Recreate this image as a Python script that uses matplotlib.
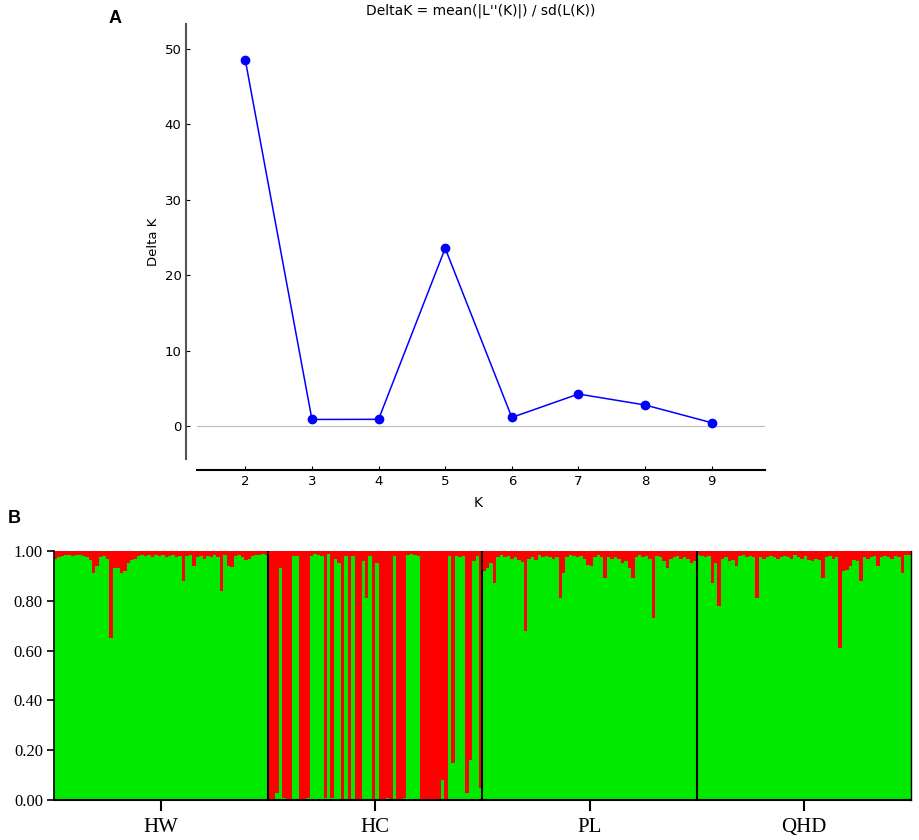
import numpy as np
import matplotlib
matplotlib.use("Agg")
import matplotlib.pyplot as plt

# panel A: Evanno Delta K
k_values = [2, 3, 4, 5, 6, 7, 8, 9]
delta_k = [48.5, 0.93, 0.95, 23.6, 1.2, 4.3, 2.85, 0.5]

# panel B: membership (green cluster share per individual)
groups = ["HW", "HC", "PL", "QHD"]
hw = [0.97, 0.975, 0.98, 0.985, 0.985, 0.98, 0.985, 0.985, 0.98, 0.975,
      0.965, 0.91, 0.94, 0.975, 0.98, 0.97, 0.65, 0.93, 0.93, 0.91,
      0.92, 0.95, 0.965, 0.97, 0.98, 0.985, 0.98, 0.985, 0.975, 0.985,
      0.98, 0.985, 0.975, 0.98, 0.985, 0.975, 0.98, 0.88, 0.98, 0.985,
      0.94, 0.975, 0.98, 0.97, 0.98, 0.975, 0.985, 0.975, 0.84, 0.985,
      0.94, 0.935, 0.98, 0.985, 0.975, 0.965, 0.97, 0.98, 0.985, 0.985,
      0.99, 0.985]
hc = [0.0, 0.0, 0.03, 0.93, 0.01, 0.0, 0.0, 0.98, 0.98, 0.0,
      0.0, 0.01, 0.98, 0.99, 0.985, 0.98, 0.01, 0.99, 0.01, 0.97,
      0.95, 0.0, 0.98, 0.0, 0.98, 0.0, 0.0, 0.96, 0.81, 0.98,
      0.0, 0.95, 0.0, 0.0, 0.01, 0.0, 0.98, 0.0, 0.0, 0.01,
      0.985, 0.99, 0.985, 0.98, 0.0, 0.0, 0.0, 0.0, 0.0, 0.0,
      0.08, 0.0, 0.98, 0.15, 0.98, 0.975, 0.98, 0.03, 0.16, 0.96,
      0.98, 0.05]
pl = [0.92, 0.93, 0.95, 0.87, 0.975, 0.985, 0.975, 0.98, 0.97, 0.975,
      0.965, 0.955, 0.68, 0.97, 0.975, 0.965, 0.985, 0.975, 0.98, 0.975,
      0.97, 0.975, 0.81, 0.91, 0.975, 0.985, 0.98, 0.975, 0.98, 0.97,
      0.945, 0.94, 0.975, 0.985, 0.975, 0.89, 0.975, 0.97, 0.975, 0.97,
      0.95, 0.96, 0.93, 0.89, 0.975, 0.985, 0.975, 0.98, 0.97, 0.73,
      0.98, 0.975, 0.96, 0.93, 0.97, 0.975, 0.98, 0.97, 0.975, 0.97,
      0.95, 0.96]
qhd = [0.985, 0.98, 0.975, 0.98, 0.87, 0.95, 0.78, 0.97, 0.975, 0.96,
       0.965, 0.94, 0.98, 0.985, 0.975, 0.98, 0.975, 0.81, 0.975, 0.97,
       0.975, 0.98, 0.975, 0.97, 0.975, 0.98, 0.975, 0.97, 0.985, 0.975,
       0.97, 0.98, 0.965, 0.96, 0.97, 0.965, 0.89, 0.975, 0.98, 0.97,
       0.975, 0.61, 0.92, 0.925, 0.94, 0.965, 0.96, 0.88, 0.975, 0.97,
       0.975, 0.98, 0.94, 0.975, 0.98, 0.975, 0.97, 0.98, 0.975, 0.91,
       0.985, 0.985]
y_ticks_b = [0.0, 0.2, 0.4, 0.6, 0.8, 1.0]

fig = plt.figure(figsize=(9.2, 8.4), dpi=100)

# ---- A ----
ax = fig.add_axes([0.2138, 0.4536, 0.6177, 0.5179])
ax.axhline(0, color="#c0c0c0", lw=0.9, zorder=1)
ax.plot(k_values, delta_k, color="#0000ff", lw=1.1, marker="o", ms=6,
        zorder=3)
ax.set_xlim(1.27, 9.8)
ax.set_ylim(-4.3, 53.3)
ax.set_xticks(k_values)
ax.set_yticks([0, 10, 20, 30, 40, 50])
for side in ["top", "right"]:
    ax.spines[side].set_visible(False)
ax.spines["left"].set_position(("outward", 7.5))
ax.spines["bottom"].set_position(("outward", 8))
ax.spines["left"].set_color("#555555")
ax.spines["left"].set_linewidth(1.5)
ax.spines["bottom"].set_linewidth(1.5)
ax.tick_params(direction="in", length=3, labelsize=9.5, width=0.8)
ax.set_xlabel("K", fontsize=10, labelpad=-1)
ax.xaxis.set_label_coords(0.495, -0.085)
ax.set_ylabel("Delta K", fontsize=9.5, labelpad=3)
ax.set_title("DeltaK = mean(|L''(K)|) / sd(L(K))", fontsize=10, pad=7)
fig.text(0.125, 0.978, "A", fontsize=13, fontweight="bold",
         family="Liberation Sans", ha="center", va="center")

# ---- B ----
bx = fig.add_axes([0.0587, 0.0476, 0.9315, 0.2964])
green = np.array(hw + hc + pl + qhd)
xs = np.arange(len(green))
bx.bar(xs, green, width=1.0, color="#00ea00", linewidth=0)
bx.bar(xs, 1 - green, bottom=green, width=1.0, color="#ff0000", linewidth=0)

sizes = [len(hw), len(hc), len(pl), len(qhd)]
edges = np.cumsum([0] + sizes) - 0.5
for e in edges[1:-1]:
    bx.axvline(e, color="black", lw=1.5)
centers = [(edges[i] + edges[i + 1]) / 2 for i in range(len(groups))]
bx.set_xlim(edges[0], edges[-1])
bx.set_ylim(0, 1.0)
bx.set_xticks(centers)
bx.set_xticklabels(groups, family="Liberation Serif", fontsize=15)
bx.set_yticks(y_ticks_b)
bx.set_yticklabels(["%.2f" % v for v in y_ticks_b],
                   family="Liberation Serif", fontsize=12)
bx.spines["top"].set_visible(False)
bx.spines["right"].set_linewidth(1.0)
bx.spines["left"].set_linewidth(1.2)
bx.spines["bottom"].set_linewidth(1.5)
bx.tick_params(axis="x", length=8, width=1.5, pad=5)
bx.tick_params(axis="y", length=5, width=1.2, pad=3)
fig.text(0.016, 0.383, "B", fontsize=13, fontweight="bold",
         family="Liberation Sans", ha="center", va="center")

fig.savefig("out.png", dpi=100)
